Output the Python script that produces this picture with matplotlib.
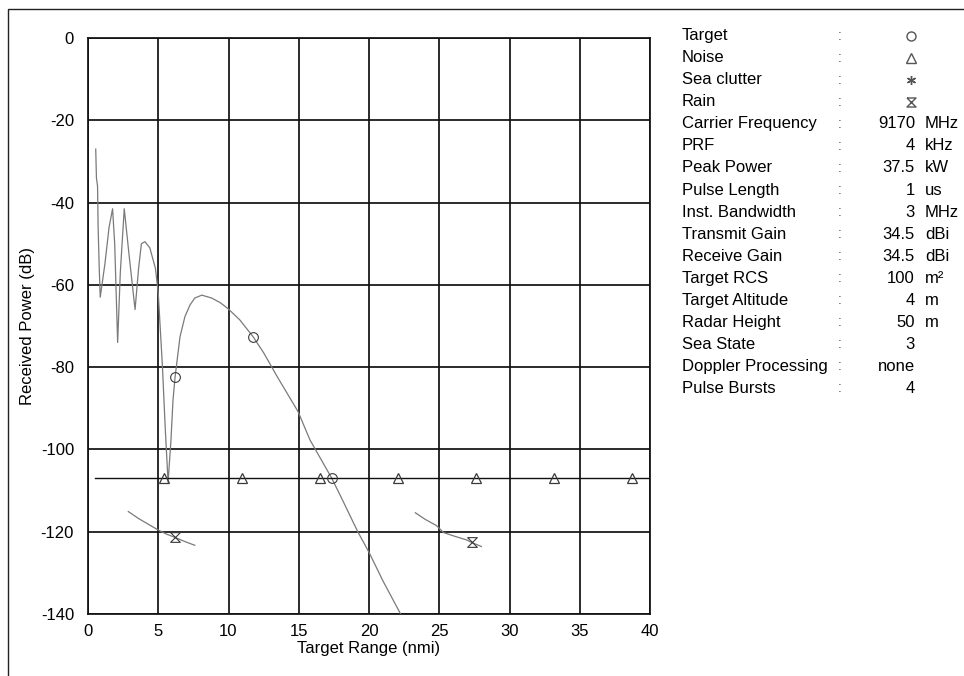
import matplotlib
matplotlib.use("Agg")
import matplotlib.pyplot as plt
from matplotlib.lines import Line2D
from matplotlib.patches import Rectangle
import numpy as np

plt.rcParams['font.family'] = ['Liberation Sans', 'DejaVu Sans']
plt.rcParams['axes.unicode_minus'] = False

# ---- data ----
target_x = [0.55, 0.6, 0.68, 0.72, 0.8, 0.87, 1.2, 1.5, 1.75, 1.9, 2.11, 2.3, 2.58,
            2.9, 3.35, 3.6, 3.8, 4.05, 4.4, 4.8, 5.0, 5.1, 5.3, 5.5, 5.7, 5.9, 6.05,
            6.2, 6.55, 6.9, 7.26, 7.6, 8.1, 8.8, 9.4, 9.94, 10.8, 11.75, 12.5, 13.5,
            14.95, 15.8, 17.35, 18.0, 19.2, 20.0, 21.0, 22.25]
target_db = [-27, -34, -36, -46, -56, -63, -55, -46, -41.5, -50, -74, -57, -41.5,
             -52, -66, -56, -50, -49.5, -51, -56, -62, -68, -80, -95, -108, -98, -88,
             -82.3, -72.6, -67.7, -64.9, -63.2, -62.5, -63.2, -64.3, -65.7, -68.5,
             -72.6, -76.5, -82.5, -90.8, -97.7, -107, -111.5, -120, -125, -132, -140]
target_marker_x = [6.2, 11.75, 17.35]

noise_x = [0.5, 40.0]
noise_db = [-107, -107]
noise_marker_x = [5.4, 10.95, 16.5, 22.05, 27.6, 33.15, 38.7]

rain1_x = [2.87, 3.6, 4.3, 5.0, 5.6, 6.2, 6.9, 7.6]
rain1_db = [-115.1, -116.8, -118.2, -119.6, -120.6, -121.4, -122.4, -123.3]
rain1_marker_x = [6.2]
rain2_x = [23.3, 24.0, 24.8, 25.3, 26.0, 26.95, 27.3, 28.0]
rain2_db = [-115.4, -117.0, -118.5, -120.2, -121.0, -122.0, -122.6, -123.6]
rain2_marker_x = [27.3]

x_ticks = [0, 5, 10, 15, 20, 25, 30, 35, 40]
y_ticks = [0, -20, -40, -60, -80, -100, -120, -140]

param_labels = ["Target", "Noise", "Sea clutter", "Rain", "Carrier Frequency", "PRF",
                "Peak Power", "Pulse Length", "Inst. Bandwidth", "Transmit Gain",
                "Receive Gain", "Target RCS", "Target Altitude", "Radar Height",
                "Sea State", "Doppler Processing", "Pulse Bursts"]
param_values = ["", "", "", "", "9170", "4", "37.5", "1", "3", "34.5", "34.5", "100",
                "4", "50", "3", "none", "4"]
param_units = ["", "", "", "", "MHz", "kHz", "kW", "us", "MHz", "dBi", "dBi", "m²",
               "m", "m", "", "", ""]
legend_markers = ["o", "^", (6, 2, 0), "hourglass"]

# ---- figure ----
W, H = 964, 676
fig = plt.figure(figsize=(W / 100, H / 100), dpi=100)
fig.patch.set_facecolor('white')

# outer frame
fig.add_artist(Rectangle((8 / W, -0.1), 1.2, 1 - 9 / H + 0.1, transform=fig.transFigure,
                         fill=False, edgecolor='#222222', linewidth=1.0))

ax_l, ax_r, ax_t, ax_b = 88, 650, 38, 614
ax = fig.add_axes([ax_l / W, 1 - ax_b / H, (ax_r - ax_l) / W, (ax_b - ax_t) / H])
ax.set_xlim(0, 40)
ax.set_ylim(-140, 0)
ax.set_xticks(x_ticks)
ax.set_yticks(y_ticks)
ax.grid(True, color='#111111', linewidth=1.25)
ax.set_axisbelow(True)
for s in ax.spines.values():
    s.set_color('#111111')
    s.set_linewidth(1.25)
ax.tick_params(length=0, labelsize=12, pad=7)
ax.tick_params(axis='y', pad=10)
ax.set_xlabel("Target Range (nmi)", fontsize=12, labelpad=2)
ax.set_ylabel("Received Power (dB)", fontsize=12)
ax.yaxis.set_label_coords((35 - ax_l) / (ax_r - ax_l), 0.5)

hourglass = [(-1, 1), (1, 1), (-1, -1), (1, -1), (-1, 1)]
gray = '#7a7a7a'
mk = '#3a3a3a'

# target
ax.plot(target_x, target_db, color=gray, lw=0.9, zorder=3)
tmy = np.interp(target_marker_x, target_x, target_db)
ax.plot(target_marker_x, tmy, ls='none', marker='o', ms=7, mfc='none', mec=mk, mew=0.8, zorder=4)

# noise
ax.plot(noise_x, noise_db, color='#111111', lw=1.0, zorder=3)
ax.plot(noise_marker_x, [noise_db[0]] * len(noise_marker_x), ls='none', marker='^', ms=7,
        mfc='none', mec=mk, mew=0.9, zorder=4)

# rain
for rx, ry, rmx in [(rain1_x, rain1_db, rain1_marker_x), (rain2_x, rain2_db, rain2_marker_x)]:
    ax.plot(rx, ry, color=gray, lw=0.9, zorder=3)
    ax.plot(rmx, np.interp(rmx, rx, ry), ls='none', marker=hourglass, ms=7, mfc='none',
            mec=mk, mew=0.8, zorder=4)

# ---- parameter panel ----
y0, dy = 35.7, 22.05
for i, lab in enumerate(param_labels):
    yy = 1 - (y0 + i * dy) / H
    fig.text(682 / W, yy, lab, fontsize=12, va='center', ha='left')
    fig.text(840 / W, yy, ":", fontsize=10, va='center', ha='center', color='#555555')
    if param_values[i]:
        fig.text(915 / W, yy, param_values[i], fontsize=12, va='center', ha='right')
    if param_units[i]:
        fig.text(925 / W, yy, param_units[i], fontsize=12, va='center', ha='left')
    if i < len(legend_markers):
        m = legend_markers[i]
        if m == "hourglass":
            m = hourglass
        fig.add_artist(Line2D([911 / W], [yy], transform=fig.transFigure, marker=m, ms=6.5,
                              mfc='none', mec='#555555', mew=1.0, ls='none'))

fig.savefig("out.png", dpi=100)
